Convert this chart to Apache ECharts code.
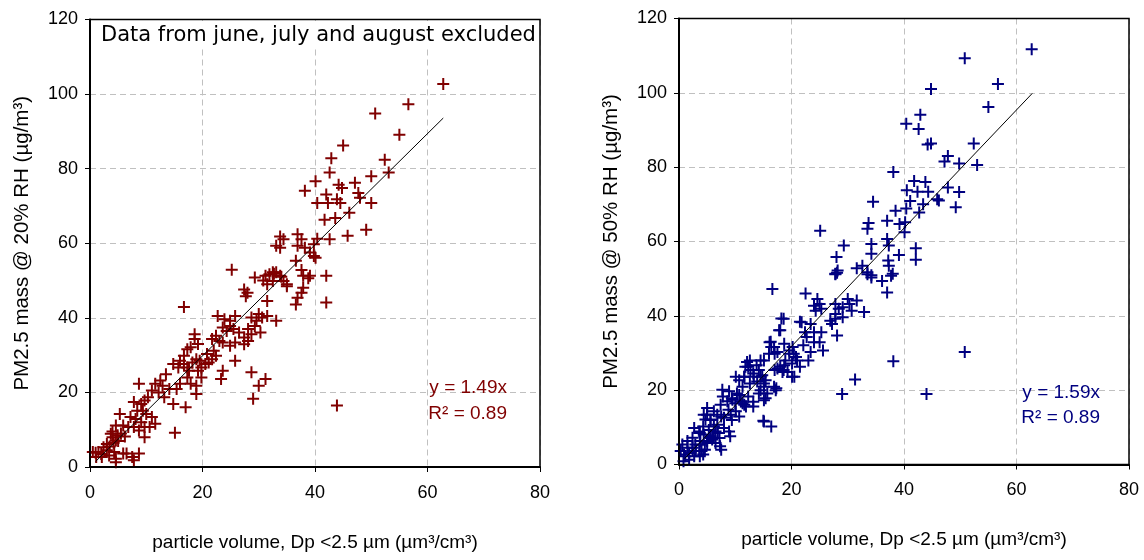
<!DOCTYPE html>
<html><head><meta charset="utf-8">
<script src="https://cdn.jsdelivr.net/npm/echarts@6/dist/echarts.min.js"></script>
<style>html,body{margin:0;padding:0;background:#fff}#c{width:1144px;height:560px}</style>
</head><body><div id="c"></div>
<script>
// ---- data ----
const leftPoints = [
[62.8,102.7],[56.6,97.3],[50.7,94.8],[55.0,89.1],[45.0,86.2],[42.9,82.8],[52.4,82.4],[42.6,79.0],[50.0,78.0],[53.1,79.0],
[38.2,74.1],[40.1,76.6],[44.2,75.7],[47.1,76.2],[42.0,73.1],[47.7,73.5],[48.0,72.2],[40.4,70.8],[42.3,70.8],[43.9,71.8],
[44.5,70.8],[50.0,70.8],[43.6,66.8],[41.7,66.3],[46.1,68.2],[44.8,74.8],[49.1,63.6],[45.8,62.0],[42.6,61.1],[40.4,61.2],
[39.8,59.7],[36.9,62.4],[37.6,61.1],[36.9,59.3],[38.2,58.8],[33.8,61.8],[34.4,61.1],[33.1,59.3],[33.8,58.8],[39.8,56.6],
[40.1,56.1],[36.6,55.3],[39.1,57.5],[25.2,52.9],[29.3,50.8],[31.9,51.7],[32.5,52.2],[33.1,52.2],[33.8,51.3],[31.2,51.3],
[37.9,51.3],[39.1,51.3],[42.0,51.3],[32.7,51.8],[34.0,51.0],[30.8,50.0],[35.0,48.5],[37.6,52.8],[38.8,50.6],
[27.4,47.6],[28.0,46.7],[27.7,45.8],[31.5,44.5],[36.9,45.4],[36.6,43.6],[37.9,48.1],[37.6,46.7],[34.4,49.9],[35.0,49.0],
[31.5,49.0],[32.5,49.9],[42.0,44.1],[16.7,42.9],
[22.7,40.5],[23.9,39.6],[24.9,39.2],[25.8,40.5],[24.9,37.8],[25.5,37.0],[24.3,36.5],[23.6,37.4],[26.5,36.1],[27.4,34.7],
[28.7,35.6],[29.3,37.8],[29.6,39.2],[30.6,40.1],[31.5,40.5],[33.1,39.2],[30.0,41.0],[28.7,40.1],[28.1,37.0],[28.1,33.8],
[30.3,36.1],[27.4,32.9],[25.8,33.4],[24.9,32.5],[23.6,33.4],[22.4,35.2],[23.0,33.8],[21.7,34.3],
[28.7,25.4],[30.0,21.8],[31.2,23.6],[29.0,18.3],[43.9,16.5],[25.8,28.5],[23.6,25.8],[23.3,23.6],
[18.6,35.6],[18.6,34.3],[17.9,32.1],[19.2,33.0],
[17.3,31.6],[16.7,29.8],[16.0,28.5],[14.8,27.6],[15.7,26.7],[16.7,27.6],[17.3,26.7],[18.2,28.0],[18.9,28.9],[19.5,28.5],
[19.8,26.7],[20.5,27.6],[21.1,28.0],[21.7,28.9],[22.4,29.8],[22.0,31.2],[20.8,30.3],[19.2,25.8],[19.8,24.0],[18.9,21.8],
[18.9,19.6],[17.6,25.8],[17.3,24.0],[17.9,22.3],[16.0,22.3],[17.0,16.0],
[13.5,24.9],[12.5,23.2],[11.6,22.3],[12.9,21.8],[14.1,20.9],[15.4,20.9],[14.8,16.9],[13.2,18.7],[12.2,20.0],[11.0,20.5],
[10.3,18.7],[9.7,17.8],[8.7,22.3],[9.1,16.9],
[7.8,17.4],[8.4,15.1],[9.4,15.1],[10.0,14.2],[11.0,13.4],[11.6,11.6],[10.6,10.7],[9.7,10.7],[9.1,12.0],[8.1,12.9],
[7.2,13.4],[7.8,10.7],[8.7,9.8],[9.7,8.0],[15.1,9.2],
[5.3,14.2],[4.6,11.1],[3.7,8.9],[4.0,8.0],[3.0,6.2],[2.4,5.3],[1.5,4.0],[0.5,4.0],[1.1,2.7],[2.1,2.7],
[3.4,3.1],[4.3,4.0],[4.6,2.2],[4.6,1.3],[5.9,3.6],[6.5,3.6],[7.5,2.7],[7.8,1.8],[8.7,3.6],[5.9,11.1],
[6.8,10.7],[4.6,7.1],[4.9,8.5],[2.0,3.5],[3.0,4.5],[3.5,5.5],[4.2,6.5],[5.0,7.0],[4.0,9.5],[5.5,9.0],[6.2,8.2],[1.0,3.8]
];
const rightPoints = [
[62.7,111.7],[50.8,109.3],[56.7,102.4],[44.8,101.0],[55.0,96.2],[40.4,91.7],[42.9,94.1],[42.6,90.3],[44.2,86.1],[44.8,86.4],
[52.4,86.4],[47.2,81.5],[47.8,83.0],[49.8,81.0],[53.0,80.6],[47.8,74.5],[49.8,73.3],[49.2,69.2],[45.9,71.4],[46.2,71.0],
[41.8,76.3],[43.8,76.0],[40.5,73.8],[42.4,73.4],[44.3,73.4],[43.4,70.0],[41.1,70.9],[42.7,67.8],[40.4,68.9],[38.5,68.3],
[37.0,65.6],[39.2,64.7],[40.1,62.5],[40.2,65.2],[38.1,78.7],[34.5,70.7],[33.7,65.0],[33.5,63.4],[25.1,62.9],[29.3,58.9],
[34.2,59.3],[34.2,56.7],[37.0,60.7],[37.3,58.9],[42.1,58.2],[42.1,55.1],[39.1,56.4],[37.2,54.9],[37.3,53.5],[38.0,51.3],
[28.0,55.8],[28.2,52.2],[27.8,51.3],[31.6,52.8],[32.6,53.5],[33.5,51.7],[34.2,50.9],
[16.6,47.2],[22.5,46.0],[24.6,44.5],[25.0,43.2],[24.0,42.7],[25.3,41.9],[24.3,41.4],
[27.8,43.2],[28.4,41.9],[27.8,40.5],[29.1,42.3],[30.3,43.2],[30.0,44.5],[31.6,44.1],[32.9,41.0],[30.7,41.4],[29.1,39.6],
[27.8,39.2],[27.2,37.8],[28.1,34.7],[26.9,38.7],
[36.1,49.4],[37.0,46.3],[37.7,50.8],[34.2,50.3],[33.5,51.2],[27.8,51.2],[28.1,51.6],
[18.6,39.2],[18.0,36.1],[21.8,38.3],[23.4,37.8],[24.0,35.6],[22.4,35.6],[22.7,34.3],[25.3,35.6],[25.6,30.7],[24.0,32.9],
[25.0,32.9],[22.1,32.1],[23.4,30.3],[23.0,28.0],[20.8,28.9],[20.5,23.6],[21.5,26.3],[20.2,31.6],[19.6,29.8],[18.9,28.0],
[18.0,26.3],[17.0,29.8],[16.4,31.6],[16.1,32.9],[15.1,28.0],[17.0,25.4],[18.6,25.4],[17.3,20.5],
[12.6,28.0],[12.3,26.3],[13.8,26.7],[13.2,24.5],[14.5,23.6],[15.1,21.8],[14.2,25.4],[15.4,17.8],[14.5,20.0],[12.6,21.8],
[11.6,23.6],[11.3,20.9],[10.7,22.7],[10.3,19.1],[12.3,18.3],[13.2,16.9],[11.3,16.5],[10.0,16.5],[9.4,17.8],[7.8,18.3],
[8.8,14.7],[7.5,12.9],[9.4,12.0],[10.7,12.9],[11.9,15.6],[13.2,15.6],[15.1,11.6],[16.4,10.2],[9.1,7.6],[7.5,4.0],
[5.0,13.4],[5.6,12.0],[4.3,10.2],[3.7,8.5],[5.3,9.3],[6.2,10.2],[6.9,8.5],[5.9,6.7],[5.0,5.8],[3.7,5.3],
[2.4,4.5],[3.0,3.6],[1.8,3.1],[1.1,2.2],[0.8,0.9],[1.8,1.3],[2.7,2.2],[4.0,3.6],[4.6,4.0],[5.6,7.1],
[6.5,5.8],[7.2,7.1],[3.7,2.2],[4.3,2.7],
[50.8,30.3],[38.1,27.8],[31.3,22.9],[29.0,19.0],[44.0,19.0],[15.0,11.8],
[18.2,39.3],[17.8,36.1],[21.5,38.4],[16.3,33.0],[16.9,31.6],[16.0,29.8],[17.5,30.3],[18.7,32.5],[19.6,30.7],[20.4,29.8],
[21.0,28.0],[20.1,27.2],[18.7,26.7],[17.5,25.8],[18.4,24.9],[20.1,23.6],[19.3,24.9],
[12.1,27.6],[11.8,26.3],[12.7,25.4],[13.3,23.6],[11.6,23.6],[14.5,28.0],[14.8,24.0],[15.4,22.7],[13.9,22.3],[15.1,20.9],
[14.2,19.1],[15.7,19.1],[16.9,20.9],[17.2,20.0],[15.1,17.3],
[10.1,23.6],[7.7,20.1],[8.9,19.7],[9.5,17.4],[8.6,17.0],[7.4,16.1],[10.7,18.7],[11.0,17.0],[11.6,16.1],[10.1,14.3],
[9.2,13.4],[8.0,12.6],[6.8,13.4],[6.2,14.3],[5.0,15.2],[4.4,13.4],[4.7,12.1],[5.6,12.1],[6.8,10.7],[8.0,9.8],
[8.9,8.9],[6.5,8.9],[5.6,7.6],[4.4,8.1],[3.6,8.9],[2.7,9.8],[2.4,7.2],[1.5,6.3],[0.6,5.4],[0.3,3.6],
[1.5,4.5],[2.9,5.4],[3.8,6.3],[5.0,6.3],[6.2,7.2],[7.3,4.9],[3.6,3.6],[2.4,3.6],[0.9,2.7]
];
const fitSlopes = [1.49, 1.59];
const fitXRange = [1, 62.8];
const fitLabels = [["y = 1.49x", "R\u00B2 = 0.89"], ["y = 1.59x", "R\u00B2 = 0.89"]];
const yTitles = ["PM2.5 mass @ 20% RH (\u00B5g/m\u00B3)", "PM2.5 mass @ 50% RH (\u00B5g/m\u00B3)"];
const xTitle = "particle volume, Dp <2.5 \u00B5m (\u00B5m\u00B3/cm\u00B3)";
const noteText = "Data from june, july and august excluded";
const xAxisRange = [0, 80, 20];
const yAxisRange = [0, 120, 20];

// ---- chart ----
const colors = ['#800000', '#000080'];
const plusPath = 'path://M5,0H7V5H12V7H7V12H5V7H0V5H5Z';
const FONT = '"Liberation Sans", Arial, sans-serif';
const grids = [
  {left: 90, top: 19.5, width: 450, height: 447.5},
  {left: 679, top: 18.5, width: 450, height: 446}
];
function xAx(i) {
  return {
    gridIndex: i, type: 'value', min: xAxisRange[0], max: xAxisRange[1], interval: xAxisRange[2],
    name: xTitle, nameLocation: 'middle', nameGap: 66,
    nameTextStyle: {fontFamily: FONT, fontSize: 19, color: '#000'},
    axisLine: {show: true, onZero: false, lineStyle: {color: '#000', width: 2}},
    axisTick: {show: true, length: 5, lineStyle: {color: '#000', width: 1}},
    axisLabel: {fontFamily: FONT, fontSize: 18, color: '#000', margin: 17},
    splitLine: {show: true, lineStyle: {color: '#c0c0c0', type: [6, 4], width: 1}}
  };
}
function yAx(i) {
  return {
    gridIndex: i, type: 'value', min: yAxisRange[0], max: yAxisRange[1], interval: yAxisRange[2],
    name: yTitles[i], nameLocation: 'middle', nameGap: 57, nameRotate: 90,
    nameTextStyle: {fontFamily: FONT, fontSize: 20.5, color: '#000'},
    axisLine: {show: true, onZero: false, lineStyle: {color: '#000', width: 2}},
    axisTick: {show: true, length: 5, lineStyle: {color: '#000', width: 1}},
    axisLabel: {fontFamily: FONT, fontSize: 18, color: '#000', margin: 12},
    splitLine: {show: true, lineStyle: {color: '#c0c0c0', type: [6, 4], width: 1}}
  };
}
const allPoints = [leftPoints, rightPoints];
const series = [];
[0, 1].forEach(i => {
  series.push({
    type: 'scatter', xAxisIndex: i, yAxisIndex: i, data: allPoints[i],
    symbol: plusPath, symbolSize: 12, itemStyle: {color: colors[i], opacity: 1},
    silent: true, animation: false, z: 3
  });
  series.push({
    type: 'line', xAxisIndex: i, yAxisIndex: i,
    data: fitXRange.map(x => [x, x * fitSlopes[i]]),
    showSymbol: false, symbol: 'none', lineStyle: {color: '#000', width: 1},
    silent: true, animation: false, z: 4
  });
});
const graphic = [];
// solid frame over the dashed edge grid lines
grids.forEach(g => {
  graphic.push({type: 'rect', z: 5, silent: true,
    shape: {x: g.left, y: g.top, width: g.width, height: g.height},
    style: {fill: null, stroke: '#000', lineWidth: 1.5}});
});
graphic.push(
  {type: 'rect', z: 10, silent: true, shape: {x: 92, y: 21, width: 446, height: 26}, style: {fill: '#fff'}},
  {type: 'text', left: 101, top: 25, z: 11,
   style: {text: noteText, font: '21px "DejaVu Sans", Verdana, sans-serif', fill: '#000'}}
);
const noteRight = [507, 1100];
const noteY = [[388, 414], [393, 418]];
[0, 1].forEach(i => {
  fitLabels[i].forEach((t, j) => {
    graphic.push({type: 'text', z: 11, x: noteRight[i], y: noteY[i][j],
      style: {text: t, font: '19px ' + FONT, fill: colors[i], align: 'right', verticalAlign: 'middle'}});
  });
});
const chart = echarts.init(document.getElementById('c'), null, {renderer: 'canvas'});
chart.setOption({
  backgroundColor: '#fff',
  animation: false,
  grid: grids.map(g => Object.assign({show: false, containLabel: false}, g)),
  xAxis: [xAx(0), xAx(1)],
  yAxis: [yAx(0), yAx(1)],
  series: series,
  graphic: graphic
});
</script></body></html>
